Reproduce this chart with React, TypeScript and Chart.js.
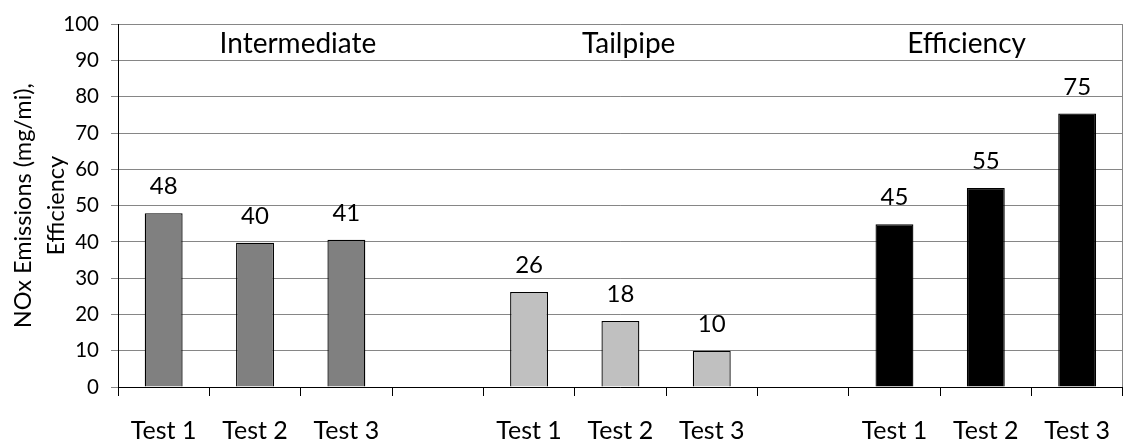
import React, { useEffect, useRef } from "react";
import { Chart, registerables } from "chart.js";

Chart.register(...registerables);

const categories = ["Test 1", "Test 2", "Test 3", "", "Test 1", "Test 2", "Test 3", "", "Test 1", "Test 2", "Test 3"];
const intermediate = [47.9, 39.8, 40.6, null, null, null, null, null, null, null, null];
const tailpipe = [null, null, null, null, 26.2, 18.2, 10.0, null, null, null, null];
const efficiency = [null, null, null, null, null, null, null, null, 44.9, 54.9, 75.4];
const groupTitles = ["Intermediate", "Tailpipe", "Efficiency"];
const groupTitleIndex = [1.47, 5.09, 8.79];
const groupTitleValue = 92.1;
const yTicks = [0, 10, 20, 30, 40, 50, 60, 70, 80, 90, 100];
const yTitleLines = ["NOx Emissions (mg/mi),", "Efficiency"];

const FONT = "Lato, 'Noto Sans', sans-serif";

export default function App() {
  const ref = useRef<HTMLCanvasElement | null>(null);

  useEffect(() => {
    const canvas = ref.current;
    if (!canvas) return;

    const decorPlugin = {
      id: "decor",
      afterDatasetsDraw(chart: any) {
        const ctx = chart.ctx;
        ctx.save();
        ctx.fillStyle = "#000";
        ctx.font = `24px ${FONT}`;
        ctx.textAlign = "center";
        ctx.textBaseline = "alphabetic";
        chart.data.datasets.forEach((ds: any, di: number) => {
          const meta = chart.getDatasetMeta(di);
          meta.data.forEach((el: any, i: number) => {
            const v = ds.data[i];
            if (v === null || v === undefined) return;
            ctx.fillText(String(Math.round(v)), el.x, el.y - 19);
          });
        });
        ctx.restore();
      },
      afterDraw(chart: any) {
        const ctx = chart.ctx;
        const area = chart.chartArea;
        const xs = chart.scales.x;
        const ys = chart.scales.y;
        ctx.save();
        // right border
        ctx.strokeStyle = "#868686";
        ctx.lineWidth = 1;
        ctx.beginPath();
        ctx.moveTo(Math.round(area.right) - 0.5, area.top);
        ctx.lineTo(Math.round(area.right) - 0.5, area.bottom);
        ctx.stroke();
        // group titles
        ctx.fillStyle = "#000";
        ctx.font = `28px ${FONT}`;
        ctx.textAlign = "center";
        ctx.textBaseline = "alphabetic";
        const n = categories.length;
        groupTitles.forEach((t, i) => {
          const x = xs.getPixelForDecimal((groupTitleIndex[i] + 0.5) / n);
          ctx.fillText(t, x, ys.getPixelForValue(groupTitleValue));
        });
        // y title
        ctx.font = `23.5px ${FONT}`;
        ctx.textBaseline = "middle";
        const cy = (area.top + area.bottom) / 2;
        const xPos = [23, 56];
        yTitleLines.forEach((t, i) => {
          ctx.save();
          ctx.translate(xPos[i], cy);
          ctx.rotate(-Math.PI / 2);
          ctx.fillText(t, 0, 0);
          ctx.restore();
        });
        ctx.restore();
      },
    };

    const chart = new Chart(canvas, {
      type: "bar",
      data: {
        labels: categories,
        datasets: [
          { label: "Intermediate", data: intermediate, backgroundColor: "#808080", borderColor: "#000", borderWidth: 1.3 },
          { label: "Tailpipe", data: tailpipe, backgroundColor: "#C0C0C0", borderColor: "#000", borderWidth: 1.3 },
          { label: "Efficiency", data: efficiency, backgroundColor: "#000", borderColor: "#000", borderWidth: 1.3 },
        ],
      },
      options: {
        responsive: false,
        animation: false,
        layout: { padding: { top: 18, right: 1, left: 0, bottom: 0 } },
        datasets: {
          bar: { grouped: false, categoryPercentage: 1, barPercentage: 0.415 },
        },
        plugins: {
          legend: { display: false },
          tooltip: { enabled: false },
          title: { display: false },
        },
        scales: {
          x: {
            offset: true,
            grid: { drawOnChartArea: false, drawTicks: true, tickLength: 9, color: "#000" },
            border: { color: "#000", width: 1 },
            ticks: { color: "#000", font: { family: FONT, size: 25 }, padding: 20, maxRotation: 0, autoSkip: false },
            afterFit: (s: any) => { s.height = 55; },
          },
          y: {
            min: 0,
            max: 100,
            afterBuildTicks: (s: any) => { s.ticks = yTicks.map((v) => ({ value: v })); },
            grid: { color: "#868686", tickColor: "#868686", tickLength: 7, lineWidth: 1 },
            border: { color: "#000", width: 1 },
            ticks: { color: "#000", font: { family: FONT, size: 20.5 }, padding: 12 },
            afterFit: (s: any) => { s.width = 118; },
          },
        },
      },
      plugins: [decorPlugin],
    });
    return () => chart.destroy();
  }, []);

  return (
    <div style={{ position: "absolute", left: 0, top: 0, width: 1130, height: 442, background: "#fff" }}>
      <canvas ref={ref} width={1130} height={442} style={{ display: "block" }} />
    </div>
  );
}
